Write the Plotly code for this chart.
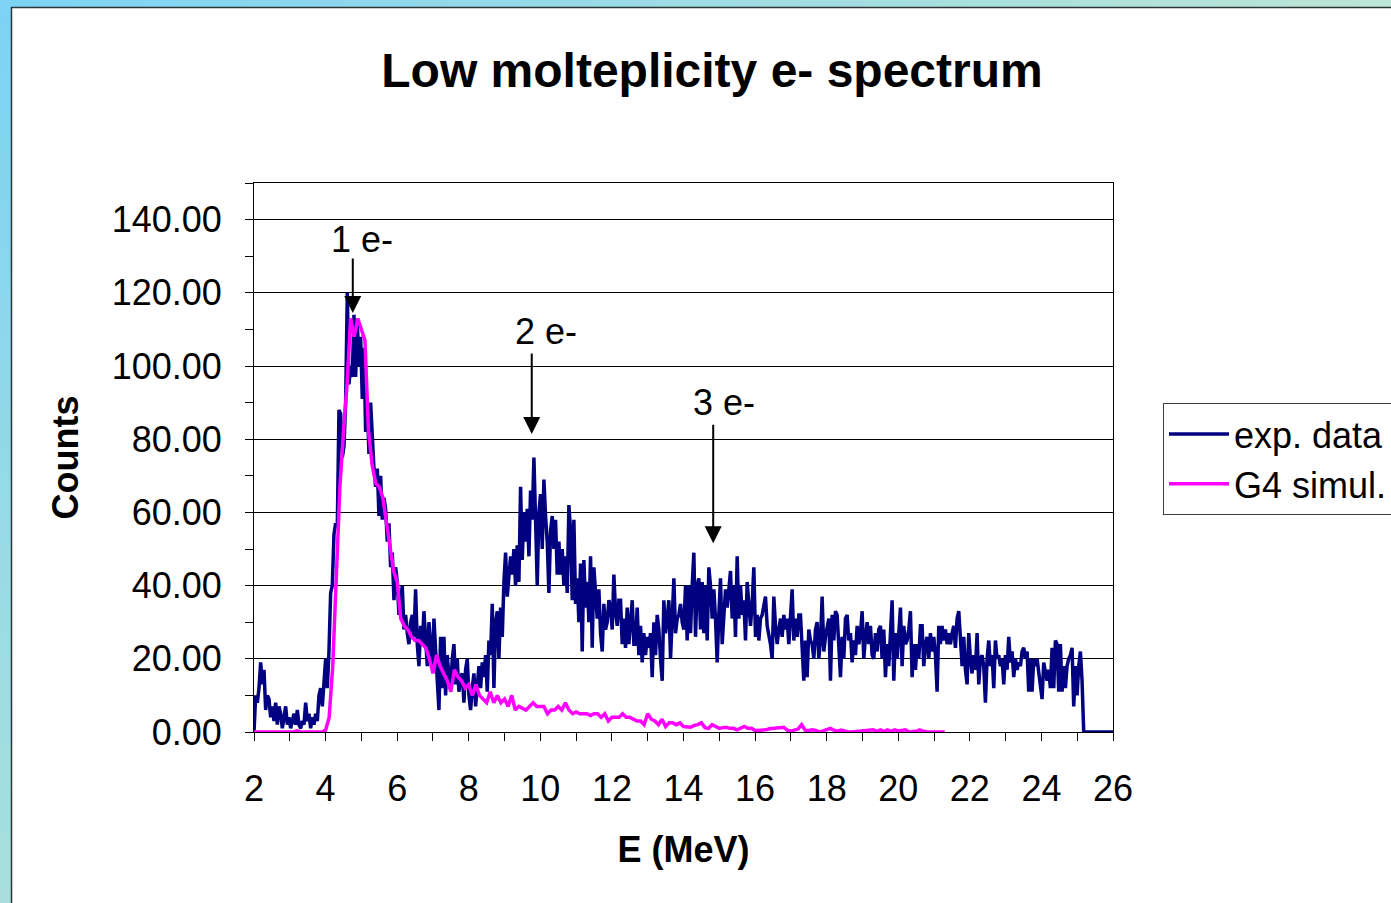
import numpy as np
import plotly.graph_objects as go

# ---------------- DATA ----------------
# Experimental spectrum: fixed bin width, first bin at 2.0 MeV
EXP_START_MEV = 2.0
EXP_BIN_MEV = 0.04655

exp_counts_a = [0, 10, 8, 12, 19, 13, 17, 6, 10, 9,
                4, 7, 3, 8, 2, 7, 5, 1, 4, 7,
                2, 4, 1, 3, 5, 2, 6, 2, 1, 3,
                2, 8, 3, 5, 1, 4, 2, 5, 3, 10,
                12, 7, 14, 20, 12, 22, 38, 40, 54, 57,
                56, 88, 87, 75, 78, 90, 120, 95, 100, 97,
                114, 97, 112, 100, 108, 91, 105, 82, 90, 76,
                90, 80, 72, 67, 72, 59, 70, 58, 64, 61,
                52, 57, 45, 49, 36, 45, 41, 32, 37, 40,
                28, 32, 27, 24, 30, 32, 26, 39, 24, 18]

exp_counts_b = [29, 24, 33, 25, 18, 30, 22, 17, 31, 20,
                14, 6, 26, 12, 26, 10, 21, 15, 12, 20,
                24, 13, 20, 11, 15, 16, 8, 17, 20, 10,
                6, 12, 16, 7, 14, 18, 12, 19, 15, 21,
                11, 25, 21, 35, 12, 30, 33, 20, 34, 26,
                41, 49, 37, 42, 48, 43, 50, 40, 51, 41,
                67, 47, 60, 52, 61, 48, 66, 58, 75, 58,
                40, 60, 65, 50, 69, 59, 52, 38, 55, 59,
                50, 58, 43, 52, 43, 50, 40, 48, 38, 62,
                55, 36, 58, 35, 42, 30, 46, 22, 47, 34,
                41, 30, 48, 23, 45, 38, 31, 39, 27, 22,
                35, 28, 30, 36, 34, 28, 43, 33, 29, 36]

exp_counts_c = [36, 24, 31, 23, 34, 24, 31, 36, 24, 24,
                34, 21, 29, 19, 27, 21, 26, 23, 27, 15,
                30, 21, 32, 28, 20, 14, 36, 27, 31, 36,
                20, 32, 42, 27, 31, 32, 35, 30, 28, 40,
                25, 40, 27, 40, 49, 26, 40, 42, 28, 41,
                27, 40, 25, 45, 40, 31, 39, 31, 19, 32,
                42, 24, 31, 39, 34, 40, 44, 31, 40, 26,
                48, 31, 40, 32, 36, 25, 41, 35, 29, 35,
                45, 26, 32, 25, 31, 32, 34, 37, 29, 27,
                24, 20, 37, 29, 24, 28, 31, 26, 32, 28,
                31, 24, 30, 39, 25, 31, 26, 32, 32, 21,
                14, 25, 15, 28, 25, 24, 20, 28, 30, 20,
                25, 37, 22, 26, 29, 31, 14, 32, 25, 33,
                32, 21, 15, 26, 20, 31, 32, 25]

exp_counts_d = [27, 19, 25, 21, 29, 24, 27, 33, 20, 26,
                30, 24, 29, 21, 20, 27, 22, 28, 29, 20,
                28, 15, 24, 18, 26, 36, 14, 27, 20, 29,
                34, 18, 29, 24, 25, 28, 33, 15, 24, 17,
                24, 20, 29, 29, 18, 24, 26, 20, 27, 22,
                26, 21, 11, 29, 24, 29, 25, 28, 24, 27,
                24, 27, 29, 23, 31, 33, 24, 18, 26, 17,
                13, 27, 20, 16, 21, 17, 27, 13, 20, 21,
                18, 8, 20, 25, 18, 21, 12, 25, 20, 21,
                18, 20, 13, 21, 17, 26, 19, 22, 15, 20,
                17, 19, 18, 22, 23, 20, 22, 11, 20, 11,
                20, 18, 20, 16, 12, 9, 19, 16, 14, 17,
                12, 23, 12, 25, 24, 11, 24, 11, 18, 12,
                18, 20, 21, 23, 7, 18, 10, 18, 22, 14]

exp_counts_tail = [0, 0, 0, 0, 0, 0, 0, 0, 0, 0,
                   0, 0, 0, 0, 0, 0, 0, 0, 0]

# Geant4 simulation: 0.1 MeV bins starting at 2.0 MeV
SIM_START_MEV = 2.0
SIM_BIN_MEV = 0.1
sim_counts = [0, 0, 0, 0, 0, 0, 0, 0, 0, 0,
              0, 0, 0.3, 0, 0, 0, 0, 0, 0, 0,
              0.5, 4, 18, 43, 67, 82, 95, 113, 108, 113,
              110, 107, 82, 73, 68, 67, 64, 57, 50, 44,
              41, 31, 29, 28, 26, 25, 25, 24, 23, 20,
              16, 21, 18, 16, 14, 11, 17, 15, 14, 12,
              13, 10, 13, 10, 9, 8, 11, 8, 10, 8,
              9, 7, 10, 6, 7, 6.5, 6, 7, 8, 7,
              7, 7, 5, 6, 6, 7, 6, 8, 6, 5,
              5.5, 5, 5, 5, 4.5, 5, 5, 4, 5, 3,
              4, 4, 4, 5, 4, 4, 3.5, 3, 3, 2,
              5, 3.5, 3, 2, 3.5, 1.5, 2.5, 2.5, 2, 2.5,
              1.5, 1.5, 1.3, 1.8, 2, 2.5, 1.2, 1, 2, 1.5,
              1, 1.2, 1.3, 1, 1, 0.6, 1, 1.5, 1, 1,
              0.4, 0.5, 0.4, 0.6, 0.9, 1, 1, 1.2, 1.3, 0.5,
              0.2, 0.5, 0.8, 2, 0.5, 0.4, 0.6, 0.4, 0, 0.3,
              0.6, 1, 0.5, 0.2, 0.5, 0.2, 0, 0, 0.1, 0.2,
              0.3, 0.4, 0.3, 0.6, 0.2, 0.6, 0.2, 0.6, 0.2, 0.6,
              0.3, 0.5, 0.6, 0, 0, 0.2, 0.6, 0.2, 0.1, 0,
              0, 0, 0, 0]

# Peak annotations: label, arrow tip (E, counts), label position (E, counts), arrow length px
peak_labels = ["1 e-", "2 e-", "3 e-"]
peak_tip_e = [4.76, 9.76, 14.83]
peak_tip_counts = [114.5, 81.4, 51.6]
peak_label_e = [5.02, 10.17, 15.13]
peak_label_counts = [134.5, 109.5, 90.0]
peak_arrow_len = [56, 82, 120]

# ---------------- FIGURE ----------------
exp_counts = exp_counts_a + exp_counts_b + exp_counts_c + exp_counts_d + exp_counts_tail
exp_energy = EXP_START_MEV + EXP_BIN_MEV * np.arange(len(exp_counts))
sim_energy = SIM_START_MEV + SIM_BIN_MEV * np.arange(len(sim_counts))

W, H = 1391, 903
ML, MR, MT, MB = 254, 278, 183, 171
PW = W - ML - MR
PH = H - MT - MB


def xp(p):
    return (p - ML) / PW


def yp(p):
    return (H - MB - p) / PH


FONT = "Liberation Sans, Arial, sans-serif"

fig = go.Figure()
fig.add_trace(go.Scatter(x=exp_energy, y=exp_counts, mode="lines", name="exp. data",
                         line=dict(color="#000080", width=3.5)))
fig.add_trace(go.Scatter(x=sim_energy, y=sim_counts, mode="lines", name="G4 simul.",
                         line=dict(color="#ff00ff", width=3.5)))

# background frame: gradient strips on left and top
c0 = np.array([0x7d, 0xd3, 0xf5])
cR = np.array([0xbd, 0xe6, 0xd5])
cB = np.array([0xa9, 0xe0, 0xdc])


def col(px, py):
    c = c0 + (cR - c0) * px / W + (cB - c0) * py / H
    return "rgb(%d,%d,%d)" % tuple(np.clip(c, 0, 255).astype(int))


shapes = []
N = 40
for i in range(N):
    y0 = H * i / N
    y1 = H * (i + 1) / N
    shapes.append(dict(type="rect", xref="paper", yref="paper",
                       x0=xp(0), x1=xp(11), y0=yp(y0), y1=yp(y1) - 0.001,
                       fillcolor=col(5, (y0 + y1) / 2), line=dict(width=0), layer="above"))
for i in range(N):
    x0 = W * i / N
    x1 = W * (i + 1) / N
    shapes.append(dict(type="rect", xref="paper", yref="paper",
                       x0=xp(x0), x1=xp(x1) + 0.001, y0=yp(0), y1=yp(7),
                       fillcolor=col((x0 + x1) / 2, 3), line=dict(width=0), layer="above"))
shapes.append(dict(type="line", xref="paper", yref="paper", x0=xp(11.5), x1=xp(11.5),
                   y0=yp(7), y1=yp(H), line=dict(color="#2b3535", width=1.5), layer="above"))
shapes.append(dict(type="line", xref="paper", yref="paper", x0=xp(11), x1=xp(W),
                   y0=yp(7.5), y1=yp(7.5), line=dict(color="#2b3535", width=1.5), layer="above"))

annotations = []
for lab, te, tc, le, lc, al in zip(peak_labels, peak_tip_e, peak_tip_counts,
                                    peak_label_e, peak_label_counts, peak_arrow_len):
    annotations.append(dict(x=te, y=tc, xref="x", yref="y", text="", showarrow=True,
                            ax=0, ay=-al, arrowhead=2, arrowsize=1.7, arrowwidth=2,
                            arrowcolor="black", standoff=0, startstandoff=0))
    annotations.append(dict(x=le, y=lc, xref="x", yref="y", text=lab, showarrow=False,
                            font=dict(family=FONT, size=36, color="black"),
                            xanchor="center", yanchor="middle"))

axis_common = dict(showline=True, linecolor="black", linewidth=1, mirror=True,
                   ticks="outside", ticklen=8, tickwidth=1, tickcolor="black",
                   zeroline=False, tickfont=dict(family=FONT, size=36, color="black"))

fig.update_layout(
    width=W, height=H,
    margin=dict(l=ML, r=MR, t=MT, b=MB, autoexpand=False),
    paper_bgcolor="white", plot_bgcolor="white",
    font=dict(family=FONT, color="black"),
    title=dict(text="<b>Low molteplicity e- spectrum</b>", x=712 / W, y=1 - 70 / H,
               xref="container", yref="container", xanchor="center", yanchor="middle",
               font=dict(family=FONT, size=48, color="black")),
    xaxis=dict(range=[2, 26], tick0=2, dtick=2, showgrid=False,
               ticklabelstandoff=17,
               minor=dict(dtick=1, tick0=2, ticks="outside", ticklen=8, tickcolor="black",
                          showgrid=False),
               title=dict(text="<b>E (MeV)</b>", standoff=28,
                          font=dict(family=FONT, size=36, color="black")),
               **axis_common),
    yaxis=dict(range=[0, 150], tick0=0, dtick=20, tickformat=".2f",
               showgrid=True, gridcolor="black", gridwidth=1,
               ticklabelstandoff=16,
               minor=dict(dtick=10, tick0=0, ticks="outside", ticklen=8, tickcolor="black",
                          showgrid=False),
               title=dict(text="<b>Counts</b>", standoff=22,
                          font=dict(family=FONT, size=36, color="black")),
               **axis_common),
    legend=dict(x=xp(1163), y=yp(403), xanchor="left", yanchor="top",
                bordercolor="#404040", borderwidth=1, bgcolor="white",
                itemwidth=60,
                font=dict(family=FONT, size=36, color="black")),
    shapes=shapes,
    annotations=annotations,
)

fig.write_html("out.html")
